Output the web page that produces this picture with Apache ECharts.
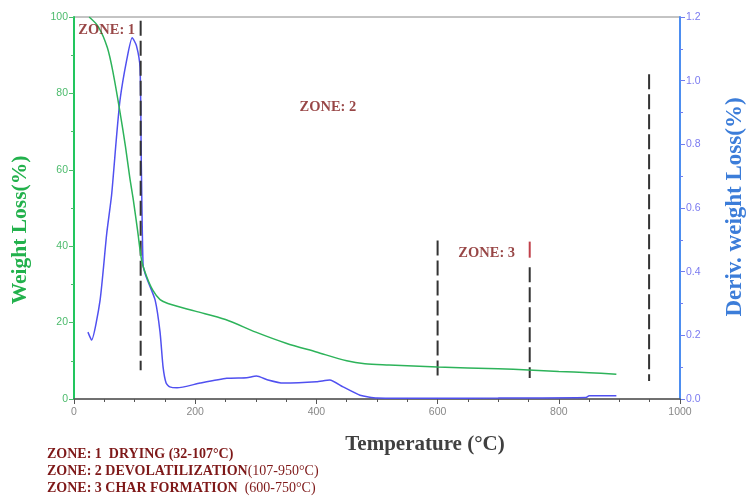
<!DOCTYPE html>
<html>
<head>
<meta charset="utf-8">
<script src="https://cdn.jsdelivr.net/npm/echarts@6/dist/echarts.min.js"></script>
<style>
  html, body { margin: 0; padding: 0; background: #fff; }
</style>
</head>
<body>
<div id="main" style="width: 747px; height: 497px;"></div>
<script>
// weight loss curve (left axis)
const tempW = [25, 40, 55, 65, 76, 85, 92, 98, 105, 112, 120, 130, 142, 155, 200, 250, 300, 350, 400, 450, 480, 520, 600, 700, 750, 800, 850, 895];
const weight = [100, 97.5, 92, 85, 75, 66, 58, 52, 44, 36, 32, 28.5, 26, 25, 23, 20.8, 17.5, 14.6, 12.3, 10, 9.2, 8.9, 8.4, 7.9, 7.6, 7.2, 6.9, 6.5];

// derivative curve (right axis)
const tempD = [23, 29, 43, 54, 62, 70, 76, 87, 96, 103, 109, 111, 114, 118, 122, 134, 142, 147, 152, 158, 170, 208, 252, 285, 301, 320, 345, 400, 422, 444, 472, 500, 600, 700, 845, 850, 895];
const deriv = [0.21, 0.185, 0.31, 0.52, 0.64, 0.82, 0.94, 1.065, 1.135, 1.11, 1.04, 0.75, 0.42, 0.39, 0.37, 0.31, 0.21, 0.10, 0.05, 0.038, 0.035, 0.05, 0.065, 0.067, 0.072, 0.06, 0.05, 0.054, 0.06, 0.038, 0.012, 0.003, 0.002, 0.003, 0.005, 0.01, 0.01];

// zone boundary lines (in weight-axis units)
const zoneLineX = [110, 600, 752, 949];
const zoneLineTop = [99, 41.5, 34.5, 85];
const zoneLineBottom = [7.5, 5, 5.5, 4.7];

// zone labels
const zoneLabels = ['ZONE: 1', 'ZONE: 2', 'ZONE: 3'];
const zoneLabelX = [54, 419, 681];
const zoneLabelY = [96.6, 76.4, 38.2];

const xTicks = [0, 200, 400, 600, 800, 1000];
const legendLines = [
  ['ZONE: 1  DRYING (32-107°C)', ''],
  ['ZONE: 2 DEVOLATILIZATION', '(107-950°C)'],
  ['ZONE: 3 CHAR FORMATION  ', '(600-750°C)']
];

const myChart = echarts.init(document.getElementById('main'));

const zoneSeries = zoneLineX.map(function (x, i) {
  return {
    type: 'line',
    yAxisIndex: 0,
    symbol: 'none',
    silent: true,
    data: [[x, zoneLineTop[i]], [x, zoneLineBottom[i]]],
    lineStyle: { color: '#333', width: 2, type: [15, 5] },
    z: 3
  };
});

const option = {
  animation: false,
  grid: {
    left: 74, right: 67, top: 17, bottom: 98,
    show: true, borderColor: '#888', borderWidth: 1
  },
  xAxis: {
    type: 'value',
    min: 0, max: 1000, interval: 200,
    axisLine: { lineStyle: { color: '#555', width: 1.5 } },
    axisTick: { show: true, lineStyle: { color: '#555' } },
    minorTick: { show: true, splitNumber: 4, length: 3, lineStyle: { color: '#555' } },
    splitLine: { show: false },
    axisLabel: {
      color: '#888', fontSize: 10.5, fontFamily: 'Arial',
      formatter: function (v) { return xTicks.indexOf(v) >= 0 ? String(v) : ''; }
    }
  },
  yAxis: [
    {
      type: 'value',
      min: 0, max: 100, interval: 20,
      axisLine: { show: true, lineStyle: { color: '#22c55e', width: 2 } },
      axisTick: { show: true, lineStyle: { color: '#4cbb6c' } },
      minorTick: { show: true, splitNumber: 2, length: 3, lineStyle: { color: '#4cbb6c' } },
      splitLine: { show: false },
      axisLabel: { color: '#4cbb6c', fontSize: 10.5, fontFamily: 'Arial', margin: 6 }
    },
    {
      type: 'value',
      min: 0, max: 1.2, interval: 0.2,
      position: 'right',
      axisLine: { show: true, lineStyle: { color: '#4d8ef0', width: 2 } },
      axisTick: { show: true, lineStyle: { color: '#6f7ff0' } },
      minorTick: { show: true, splitNumber: 2, length: 3, lineStyle: { color: '#6f7ff0' } },
      splitLine: { show: false },
      axisLabel: {
        color: '#7a7af0', fontSize: 10.5, fontFamily: 'Arial', margin: 6,
        formatter: function (v) { return v.toFixed(1); }
      }
    }
  ],
  series: [
    {
      type: 'line',
      yAxisIndex: 0,
      symbol: 'none',
      smooth: 0.3,
      data: tempW.map(function (t, i) { return [t, weight[i]]; }),
      lineStyle: { color: '#2db35a', width: 1.5 },
      z: 4
    },
    {
      type: 'line',
      yAxisIndex: 1,
      symbol: 'none',
      smooth: 0.2,
      data: tempD.map(function (t, i) { return [t, deriv[i]]; }),
      lineStyle: { color: '#5050f0', width: 1.5 },
      z: 2
    }
  ].concat(zoneSeries).concat([
    {
      type: 'line',
      yAxisIndex: 0,
      symbol: 'none',
      silent: true,
      data: [[zoneLineX[2], 41.2], [zoneLineX[2], 37]],
      lineStyle: { color: '#c0404a', width: 2 },
      z: 3
    },
    {
      type: 'scatter',
      yAxisIndex: 0,
      symbolSize: 1,
      itemStyle: { color: 'rgba(0,0,0,0)' },
      data: zoneLabels.map(function (s, i) { return [zoneLabelX[i], zoneLabelY[i], s]; }),
      label: {
        show: true, position: 'inside',
        formatter: function (p) { return p.value[2]; },
        color: '#7e1818', fontSize: 14.5, fontWeight: 'bold', fontFamily: 'Liberation Serif'
      },
      z: 5
    }
  ]),
  graphic: [
    {
      type: 'text', x: 20, y: 230, rotation: Math.PI / 2,
      style: {
        text: 'Weight Loss(%)', fill: '#22b14c', fontSize: 21.5, fontWeight: 'bold',
        fontFamily: 'Liberation Serif', align: 'center', verticalAlign: 'middle'
      }
    },
    {
      type: 'text', x: 735, y: 207, rotation: Math.PI / 2,
      style: {
        text: 'Deriv. weight Loss(%)', fill: '#3c7dd9', fontSize: 23, fontWeight: 'bold',
        fontFamily: 'Liberation Serif', align: 'center', verticalAlign: 'middle'
      }
    },
    {
      type: 'text', x: 425, y: 445,
      style: {
        text: 'Temperature (°C)', fill: '#404040', fontSize: 21, fontWeight: 'bold',
        fontFamily: 'Liberation Serif', align: 'center', verticalAlign: 'middle'
      }
    }
  ].concat(legendLines.map(function (ln, i) {
    return {
      type: 'text', x: 47, y: 454 + i * 17,
      style: {
        text: '{b|' + ln[0] + '}{n|' + ln[1] + '}',
        verticalAlign: 'middle',
        rich: {
          b: { fill: '#7e1818', fontSize: 14, fontWeight: 'bold', fontFamily: 'Liberation Serif' },
          n: { fill: '#7e1818', fontSize: 14, fontFamily: 'Liberation Serif' }
        }
      }
    };
  }))
};

myChart.setOption(option);
</script>
</body>
</html>
